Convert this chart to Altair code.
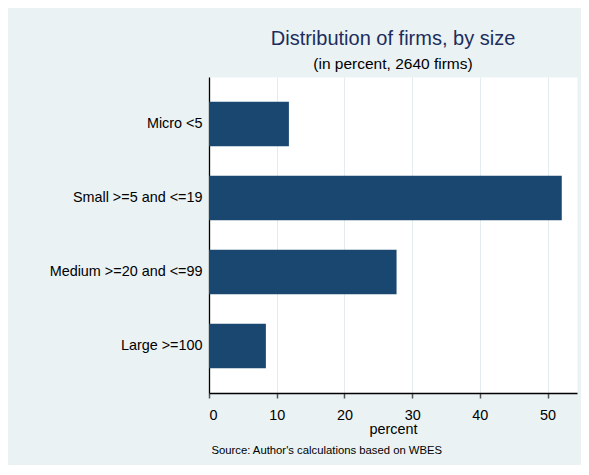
import altair as alt
import pandas as pd

categories = ["Micro <5", "Small >=5 and <=19", "Medium >=20 and <=99", "Large >=100"]
percents = [11.8, 52.1, 27.7, 8.4]
x_ticks = [0, 10, 20, 30, 40, 50]
x_max = 54.35
title_text = "Distribution of firms, by size"
subtitle_text = "(in percent, 2640 firms)"
x_title = "percent"
note_text = ["Source: Author's calculations based on WBES"]

df = pd.DataFrame({"category": categories, "percent": percents})
note_df = pd.DataFrame({"note": note_text})

FONT = "Liberation Sans"
BG = "#EAF2F3"
W, H = 368, 316

bars = alt.Chart(df).mark_bar(color="#1a476f").encode(
    x=alt.X(
        "percent:Q",
        scale=alt.Scale(domain=[0, x_max], nice=False, zero=True),
        axis=alt.Axis(
            values=x_ticks,
            title=x_title,
            format="d",
            grid=True,
            gridColor="#E3ECEF",
            gridWidth=1,
            domainColor="black",
            domainWidth=1.3,
            tickColor="#555555",
            tickWidth=1.5,
            tickSize=5,
            labelFont=FONT,
            labelFontSize=14.4,
            labelColor="black",
            labelPadding=10,
            titleFont=FONT,
            titleFontSize=14.4,
            titleFontWeight="normal",
            titleColor="black",
            titlePadding=1,
        ),
    ),
    y=alt.Y(
        "category:N",
        sort=categories,
        scale=alt.Scale(paddingInner=0.396, paddingOuter=0.333),
        axis=alt.Axis(
            title=None,
            ticks=False,
            grid=False,
            domainColor="black",
            domainWidth=1.3,
            labelFont=FONT,
            labelFontSize=14.4,
            labelColor="black",
            labelPadding=7,
            minExtent=181,
            maxExtent=181,
        ),
    ),
)

note = alt.Chart(note_df).mark_text(
    align="left", baseline="alphabetic", font=FONT, fontSize=11.3, color="black"
).encode(
    text="note:N",
    x=alt.value(2.4),
    y=alt.value(377.4),
)

chart = (
    alt.layer(bars, note)
    .properties(
        width=W,
        height=H,
        background=BG,
        padding={"left": 20, "top": 20, "right": 4, "bottom": 8},
        title=alt.TitleParams(
            text=title_text,
            subtitle=subtitle_text,
            font=FONT,
            fontSize=20,
            fontWeight="normal",
            color="#1c2d5e",
            subtitleFont=FONT,
            subtitleFontSize=15.5,
            subtitleColor="black",
            subtitlePadding=8,
            offset=5,
            anchor="middle",
        ),
    )
    .configure_view(fill="white", stroke="transparent")
)

chart.save("out.html", embed_options={"renderer": "svg", "actions": False})
